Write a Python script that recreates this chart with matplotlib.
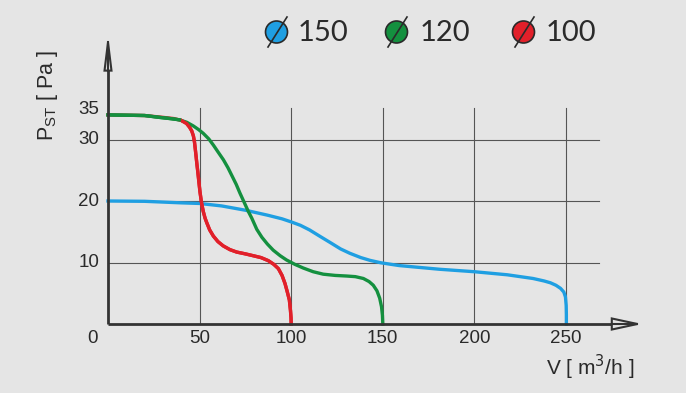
import matplotlib
matplotlib.use("Agg")
import matplotlib.pyplot as plt
from matplotlib.patches import Circle

# ---- data ----
blue_x = [0, 20, 40, 50, 62, 75, 87, 95, 100, 105, 110, 116, 121, 127, 132, 138, 143, 149,
          159, 170, 181, 200, 218, 232, 238, 241.5, 244.5, 247, 248.8, 249.7, 250.1, 250.2, 250.2]
blue_y = [20.0, 19.95, 19.7, 19.6, 19.2, 18.5, 17.7, 17.1, 16.6, 16.05, 15.3, 14.2, 13.3, 12.2, 11.5, 10.8, 10.35, 9.95,
          9.5, 9.2, 8.9, 8.5, 8.0, 7.4, 7.0, 6.7, 6.3, 5.8, 5.2, 4.4, 3.0, 1.5, 0]

green_x = [0, 20, 28, 34, 39, 43, 46.6, 49.5, 52, 55, 57.5, 60, 63, 65.5, 67.5, 70, 72, 74, 76.6, 78.5,
           81.2, 84, 87, 90.2, 94, 97.5, 102, 106.6, 112, 117.5, 124, 130.3, 135, 139.4, 142.5, 144.8,
           146.8, 148.3, 149.3, 149.8, 150]
green_y = [34, 33.9, 33.6, 33.4, 33.2, 32.8, 32.2, 31.6, 31.0, 30.1, 29.1, 28.0, 26.7, 25.4, 24.2, 22.7, 21.3, 20.0, 18.3, 17.2,
           15.4, 14.1, 13.0, 12.0, 11.1, 10.4, 9.7, 9.1, 8.5, 8.1, 7.9, 7.8, 7.7, 7.4, 6.9, 6.3,
           5.4, 4.2, 2.8, 1.4, 0]

red_x = [0, 20, 30, 36, 40, 42.9, 44.5, 45.7, 46.6, 47.2, 47.7, 48.1, 48.6, 49.0, 49.5, 50.2, 51.0, 52, 53, 54,
         55.5, 57.5, 60, 62.9, 66.5, 70.2, 75, 79.3, 83.5, 87.5, 90.5, 93, 95, 96.6, 97.8, 99, 99.6, 99.9, 100]
red_y = [34, 33.9, 33.6, 33.4, 33.1, 32.6, 32.0, 31.4, 30.6, 29.6, 28.3, 27.2, 25.8, 24.8, 23.4, 21.5, 19.8, 18.3, 17.2, 16.4,
         15.3, 14.3, 13.4, 12.7, 12.1, 11.7, 11.4, 11.1, 10.8, 10.3, 9.7, 9.0, 7.9, 6.6, 5.3, 3.9, 2.2, 1.0, 0]

x_ticks = [50, 100, 150, 200, 250]
y_ticks = [10, 20, 30, 35]
grid_y = [10, 20, 30]
legend_labels = ["150", "120", "100"]
colors = ["#1f9fe2", "#14903f", "#e1202a"]

BG = "#e5e5e5"
AX = "#333333"
TXT = "#2a2a2a"

fig = plt.figure(figsize=(6.86, 3.93), dpi=100, facecolor=BG)
ax = fig.add_axes([0, 0, 1, 1])
ax.set_facecolor(BG)
# pixel mapping: x=0 at px 108, 1.832 px/unit; y=0 at px 324 (from top), 6.15 px/unit
ax.set_xlim(-108 / 1.832, (686 - 108) / 1.832)
ax.set_ylim(-(393 - 324) / 6.15, 324 / 6.15)
ax.axis("off")

# grid
for gy in grid_y:
    ax.plot([0, 268], [gy, gy], color="#555555", lw=0.8, zorder=1)
for gx in x_ticks:
    ax.plot([gx, gx], [0, 35.1], color="#555555", lw=0.8, zorder=1)

# curves: blue bottom, red under green where they coincide, red on top after it branches off
ax.plot(blue_x, blue_y, color=colors[0], lw=2.4, solid_joinstyle="round", zorder=3)
ax.plot(red_x, red_y, color=colors[2], lw=2.4, solid_joinstyle="round", zorder=3.2)
ax.plot(green_x, green_y, color=colors[1], lw=2.4, solid_joinstyle="round", zorder=3.5)
ax.plot(red_x[4:], red_y[4:], color=colors[2], lw=2.4, solid_joinstyle="round", zorder=4)
ax.plot(green_x[:5], green_y[:5], color=colors[1], lw=2.4, solid_joinstyle="round", zorder=4.5)

# axes with open arrowheads
ax.plot([0, 275], [0, 0], color=AX, lw=2.0, zorder=6, solid_capstyle="butt")
ax.plot([0, 0], [0, 42], color=AX, lw=2.0, zorder=6, solid_capstyle="butt")
ax.fill([275, 289, 275], [0.9, 0, -0.9], facecolor=BG, edgecolor=AX, lw=1.5, zorder=7)
ax.fill([-1.9, 0, 1.9], [41.2, 45.8, 41.2], facecolor=BG, edgecolor=AX, lw=1.5, zorder=7)
ax.plot([0, 0], [41.2, 45.8], color=AX, lw=1.5, zorder=8)
ax.plot([275, 289], [0, 0], color=AX, lw=1.5, zorder=8)

tfont = dict(family="Liberation Sans", fontsize=13.5, color=TXT)
for t in x_ticks:
    ax.text(t, -2.4, str(t), ha="center", va="center", **tfont)
ax.text(-8.7, -2.3, "0", ha="center", va="center", **tfont)
for t in y_ticks:
    ax.text(-10.6, t + (-0.2 if t == 35 else 0.0), str(t), ha="center", va="center", **tfont)

ax.text(287, -7.0, "V [ m$^{3}$/h ]", ha="right", va="center",
        family="Liberation Sans", fontsize=15, color=TXT)
ax.text(-33.0, 37.2, "P$_{\\mathregular{ST}}$ [ Pa ]", ha="center", va="center", rotation=90,
        family="Liberation Sans", fontsize=15.5, color=TXT)

# legend in pixel coordinates
lax = fig.add_axes([0, 0, 1, 1])
lax.set_xlim(0, 686)
lax.set_ylim(393, 0)
lax.axis("off")
lax.patch.set_alpha(0)
centers = [276.5, 396.5, 523.5]
text_x = [298, 420, 546]
for cx, tx, c, lab in zip(centers, text_x, colors, legend_labels):
    lax.add_patch(Circle((cx, 32), 11, facecolor=c, edgecolor=TXT, lw=1.2, zorder=3))
    lax.plot([cx - 8.5, cx + 10.5], [47, 17], color=TXT, lw=1.2, zorder=4)
    lax.text(tx, 33, lab, ha="left", va="center", family="Lato",
             fontsize=21, color=TXT)

fig.savefig("out.png", dpi=100, facecolor=BG)
